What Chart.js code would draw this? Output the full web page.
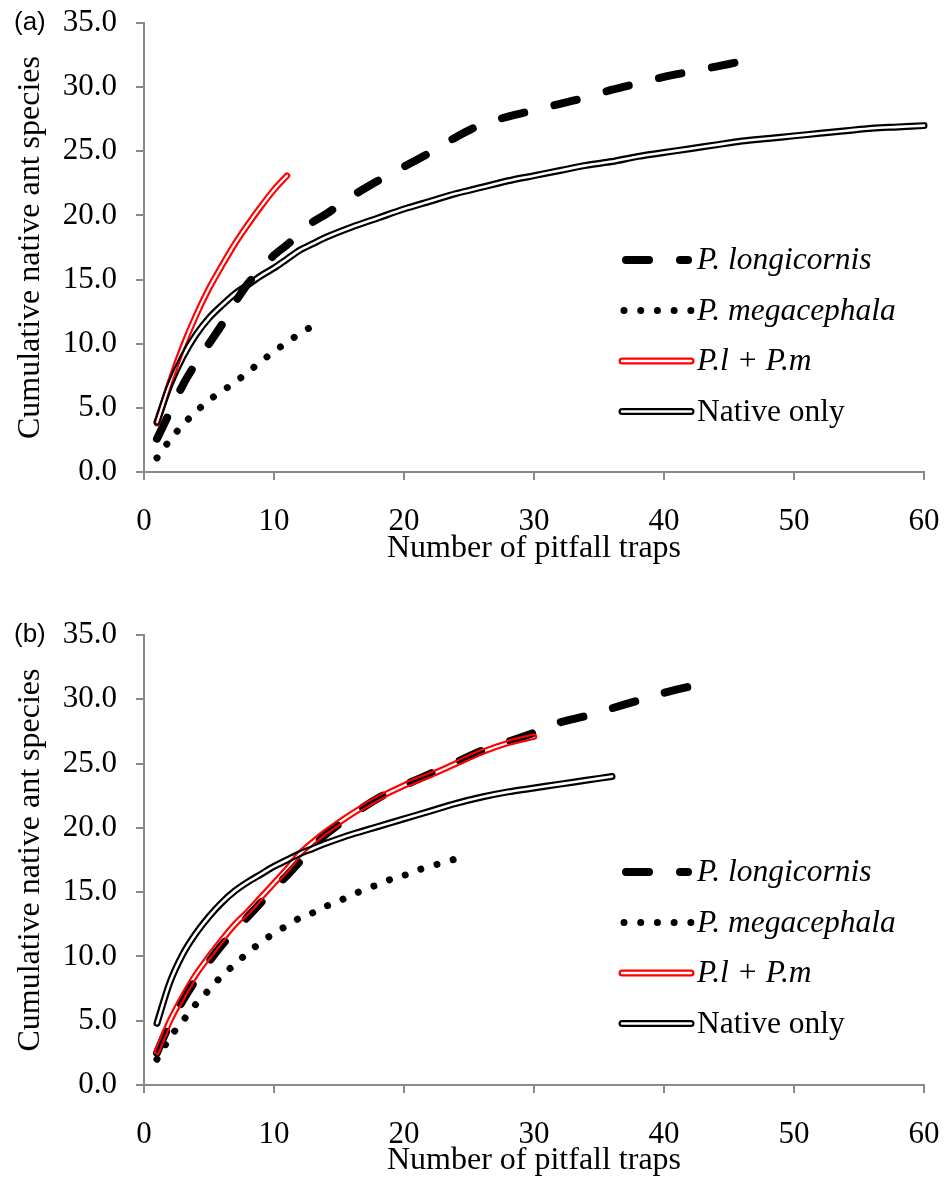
<!DOCTYPE html>
<html>
<head>
<meta charset="utf-8">
<script src="https://cdn.jsdelivr.net/npm/chart.js@4.4.1/dist/chart.umd.min.js"></script>
<style>
  body { margin: 0; background: #fff; width: 948px; height: 1180px; position: relative; overflow: hidden; }
  canvas { position: absolute; left: 0; }
  #chartA { top: 0; }
  #chartB { top: 590px; }
</style>
</head>
<body>
<canvas id="chartA" width="948" height="590"></canvas>
<canvas id="chartB" width="948" height="590"></canvas>
<script>
// axis ticks
const xTicks = [0, 10, 20, 30, 40, 50, 60];
const yTicks = ['0.0', '5.0', '10.0', '15.0', '20.0', '25.0', '30.0', '35.0'];
const seriesNames = ['P. longicornis', 'P. megacephala', 'P.l + P.m', 'Native only'];

// panel (a)
const aLongX = [1, 2, 3, 4, 5, 6, 7, 8, 9, 10, 11, 12, 13, 14, 16, 18, 20, 22, 24, 26, 28, 30, 32, 34, 36, 38, 40, 42, 44, 46, 47];
const aLongY = [2.6, 4.7, 6.8, 8.5, 10.0, 11.5, 13.2, 14.7, 15.8, 16.9, 17.7, 18.6, 19.5, 20.1, 21.5, 22.7, 23.8, 24.9, 26.1, 27.1, 27.7, 28.2, 28.7, 29.2, 29.8, 30.3, 30.8, 31.2, 31.6, 32.0, 32.1];
const aMegaX = [1, 2, 3, 4, 5, 6, 7, 8, 9, 10, 11, 12, 13, 13.5];
const aMegaY = [1.1, 2.5, 3.7, 4.7, 5.6, 6.3, 7.0, 7.8, 8.6, 9.4, 10.1, 10.8, 11.4, 11.7];
const aBothX = [1, 2, 3, 4, 5, 6, 7, 8, 9, 10, 11];
const aBothY = [3.8, 7.0, 9.8, 12.2, 14.3, 16.1, 17.8, 19.3, 20.7, 22.0, 23.1];
const aNatX = [1, 2, 3, 4, 5, 6, 7, 8, 9, 10, 11, 12, 13, 14, 16, 18, 20, 22, 24, 26, 28, 30, 32, 34, 36, 38, 40, 42, 44, 46, 48, 50, 52, 54, 56, 58, 60];
const aNatY = [3.9, 6.8, 9.0, 10.7, 12.0, 13.0, 13.9, 14.6, 15.3, 15.9, 16.6, 17.3, 17.8, 18.3, 19.1, 19.8, 20.5, 21.1, 21.7, 22.2, 22.7, 23.1, 23.5, 23.9, 24.2, 24.6, 24.9, 25.2, 25.5, 25.8, 26.0, 26.2, 26.4, 26.6, 26.8, 26.9, 27.0];

// panel (b)
const bLongX = [1, 2, 3, 4, 5, 6, 7, 8, 9, 10, 11, 12, 13, 14, 16, 18, 20, 22, 24, 26, 28, 30, 32, 34, 36, 38, 40, 42];
const bLongY = [2.5, 4.8, 6.6, 8.2, 9.6, 10.9, 12.0, 13.1, 14.2, 15.3, 16.3, 17.4, 18.5, 19.5, 21.0, 22.3, 23.3, 24.2, 25.1, 26.0, 26.7, 27.4, 28.2, 28.7, 29.3, 29.9, 30.5, 31.0];
const bMegaX = [1, 2, 3, 4, 5, 6, 7, 8, 9, 10, 11, 12, 13, 14, 15, 16, 17, 18, 19, 20, 21, 22, 23, 24, 24.4];
const bMegaY = [2.0, 3.7, 5.0, 6.3, 7.4, 8.5, 9.4, 10.3, 11.1, 11.8, 12.4, 13.0, 13.4, 13.9, 14.3, 14.8, 15.2, 15.6, 16.0, 16.3, 16.7, 17.0, 17.3, 17.6, 17.8];
const bBothX = [1, 2, 3, 4, 5, 6, 7, 8, 9, 10, 11, 12, 13, 14, 16, 18, 20, 22, 24, 26, 28, 30];
const bBothY = [2.6, 5.0, 6.9, 8.6, 10.0, 11.3, 12.5, 13.5, 14.6, 15.7, 16.8, 18.0, 18.9, 19.7, 21.1, 22.3, 23.3, 24.1, 25.0, 25.9, 26.6, 27.1];
const bNatX = [1, 2, 3, 4, 5, 6, 7, 8, 9, 10, 11, 12, 13, 14, 16, 18, 20, 22, 24, 26, 28, 30, 32, 34, 36];
const bNatY = [4.8, 8.0, 10.2, 11.8, 13.1, 14.2, 15.1, 15.8, 16.4, 17.0, 17.5, 18.0, 18.4, 18.8, 19.5, 20.1, 20.7, 21.3, 21.9, 22.4, 22.8, 23.1, 23.4, 23.7, 24.0];

const serif = 'Liberation Serif';
const axisGray = '#898989';

function pts(xs, ys) {
    return xs.map((x, i) => ({ x: x, y: ys[i] }));
}

// double (compound) line: two strokes with a see-through gap between them
const doubleLine = {
    id: 'doubleLine',
    beforeDatasetDraw(chart, args) {
        const ds = chart.data.datasets[args.index];
        if (!ds.double) return;
        const meta = args.meta;
        const line = meta.dataset;
        line.updateControlPoints(chart.chartArea, meta.iScale.axis);
        const off = document.createElement('canvas');
        off.width = chart.canvas.width;
        off.height = chart.canvas.height;
        const o = off.getContext('2d');
        o.setTransform(chart.ctx.getTransform());
        o.lineJoin = 'round';
        o.lineCap = 'round';
        o.beginPath();
        line.path(o);
        o.strokeStyle = ds.borderColor;
        o.lineWidth = ds.outerWidth;
        o.stroke();
        o.globalCompositeOperation = 'destination-out';
        o.lineWidth = ds.innerWidth;
        o.stroke();
        const ctx = chart.ctx;
        ctx.save();
        ctx.setTransform(1, 0, 0, 1, 0, 0);
        ctx.drawImage(off, 0, 0);
        ctx.restore();
        return false;
    }
};

// legend and panel letter
const sideLegend = {
    id: 'sideLegend',
    afterDraw(chart, args, opts) {
        const ctx = chart.ctx;
        const area = chart.chartArea;
        ctx.save();
        ctx.fillStyle = '#000';
        ctx.font = '26px "Liberation Sans"';
        ctx.textBaseline = 'middle';
        ctx.textAlign = 'left';
        ctx.fillText(opts.panel, 14, area.top);

        const x0 = 622, x1 = 691;
        seriesNames.forEach((name, i) => {
            const y = area.top + 237 + i * 50.5;
            ctx.save();
            ctx.lineCap = 'round';
            if (i === 0) {
                ctx.strokeStyle = '#000';
                ctx.lineWidth = 8;
                ctx.setLineDash([23, 31]);
                ctx.beginPath(); ctx.moveTo(x0 + 4, y); ctx.lineTo(x1 - 3, y); ctx.stroke();
            } else if (i === 1) {
                ctx.strokeStyle = '#000';
                ctx.lineWidth = 7;
                ctx.setLineDash([0.01, 16.7]);
                ctx.beginPath(); ctx.moveTo(x0 + 2, y); ctx.lineTo(x1, y); ctx.stroke();
            } else {
                ctx.strokeStyle = i === 2 ? '#ff0000' : '#000';
                ctx.lineWidth = 7;
                ctx.beginPath(); ctx.moveTo(x0, y); ctx.lineTo(x1, y); ctx.stroke();
                ctx.strokeStyle = '#fff';
                ctx.lineWidth = 2.5;
                ctx.beginPath(); ctx.moveTo(x0, y); ctx.lineTo(x1, y); ctx.stroke();
            }
            ctx.restore();
            ctx.font = (i < 3 ? 'italic ' : '') + '31.5px "' + serif + '"';
            ctx.fillText(name, 697, y + 1);
        });
        ctx.restore();
    }
};

function makeChart(id, panel, data, topPad, bottomAxisH, titlePadBottom) {
    const datasets = [
        {
            label: seriesNames[0], data: pts(data[0], data[1]), order: 4,
            borderColor: '#000', borderWidth: 8, borderDash: [23, 31], borderCapStyle: 'round'
        },
        {
            label: seriesNames[1], data: pts(data[2], data[3]), order: 3,
            borderColor: '#000', borderWidth: 7, borderDash: [0.01, 16.7], borderCapStyle: 'round'
        },
        {
            label: seriesNames[2], data: pts(data[4], data[5]), order: 2,
            borderColor: '#ff0000', borderWidth: 6.5, double: true, outerWidth: 6.5, innerWidth: 2.2
        },
        {
            label: seriesNames[3], data: pts(data[6], data[7]), order: 1,
            borderColor: '#000', borderWidth: 7, double: true, outerWidth: 7, innerWidth: 2.6
        }
    ];
    datasets.forEach(d => {
        d.pointRadius = 0;
        d.pointHoverRadius = 0;
        d.tension = 0.3;
        d.fill = false;
        d.borderJoinStyle = 'round';
    });

    return new Chart(document.getElementById(id), {
        type: 'line',
        data: { datasets: datasets },
        options: {
            responsive: false,
            animation: false,
            devicePixelRatio: 1,
            layout: { autoPadding: false, padding: { top: topPad, right: 24, left: 0, bottom: 0 } },
            plugins: {
                legend: { display: false },
                tooltip: { enabled: false },
                sideLegend: { panel: panel }
            },
            scales: {
                x: {
                    type: 'linear',
                    min: 0, max: 60,
                    afterBuildTicks: s => { s.ticks = xTicks.map(v => ({ value: v })); },
                    afterFit: s => { s.height = bottomAxisH; s.paddingLeft = 0; s.paddingRight = 0; },
                    border: { color: axisGray, width: 2 },
                    grid: { drawOnChartArea: false, color: axisGray, lineWidth: 2, tickLength: 8 },
                    ticks: {
                        color: '#000', padding: 23, maxRotation: 0,
                        font: { family: serif, size: 31 },
                        callback: v => String(v)
                    },
                    title: {
                        display: true, text: 'Number of pitfall traps', color: '#000',
                        font: { family: serif, size: 32 },
                        padding: { top: 0, bottom: titlePadBottom }
                    }
                },
                y: {
                    min: 0, max: 35,
                    afterBuildTicks: s => { s.ticks = yTicks.map(t => ({ value: parseFloat(t) })); },
                    afterFit: s => { s.width = 144; s.paddingTop = 0; s.paddingBottom = 0; },
                    border: { color: axisGray, width: 2 },
                    grid: { drawOnChartArea: false, color: axisGray, lineWidth: 2, tickLength: 8 },
                    ticks: {
                        color: '#000', padding: 19,
                        font: { family: serif, size: 31 },
                        callback: v => yTicks[Math.round(v / 5)]
                    },
                    title: {
                        display: true, text: 'Cumulative native ant species', color: '#000',
                        font: { family: serif, size: 32 },
                        padding: { top: 11, bottom: 0 }
                    }
                }
            }
        },
        plugins: [doubleLine, sideLegend]
    });
}

makeChart('chartA', '(a)', [aLongX, aLongY, aMegaX, aMegaY, aBothX, aBothY, aNatX, aNatY], 23, 118, 22);
makeChart('chartB', '(b)', [bLongX, bLongY, bMegaX, bMegaY, bBothX, bBothY, bNatX, bNatY], 45, 95, 0);
</script>
</body>
</html>
